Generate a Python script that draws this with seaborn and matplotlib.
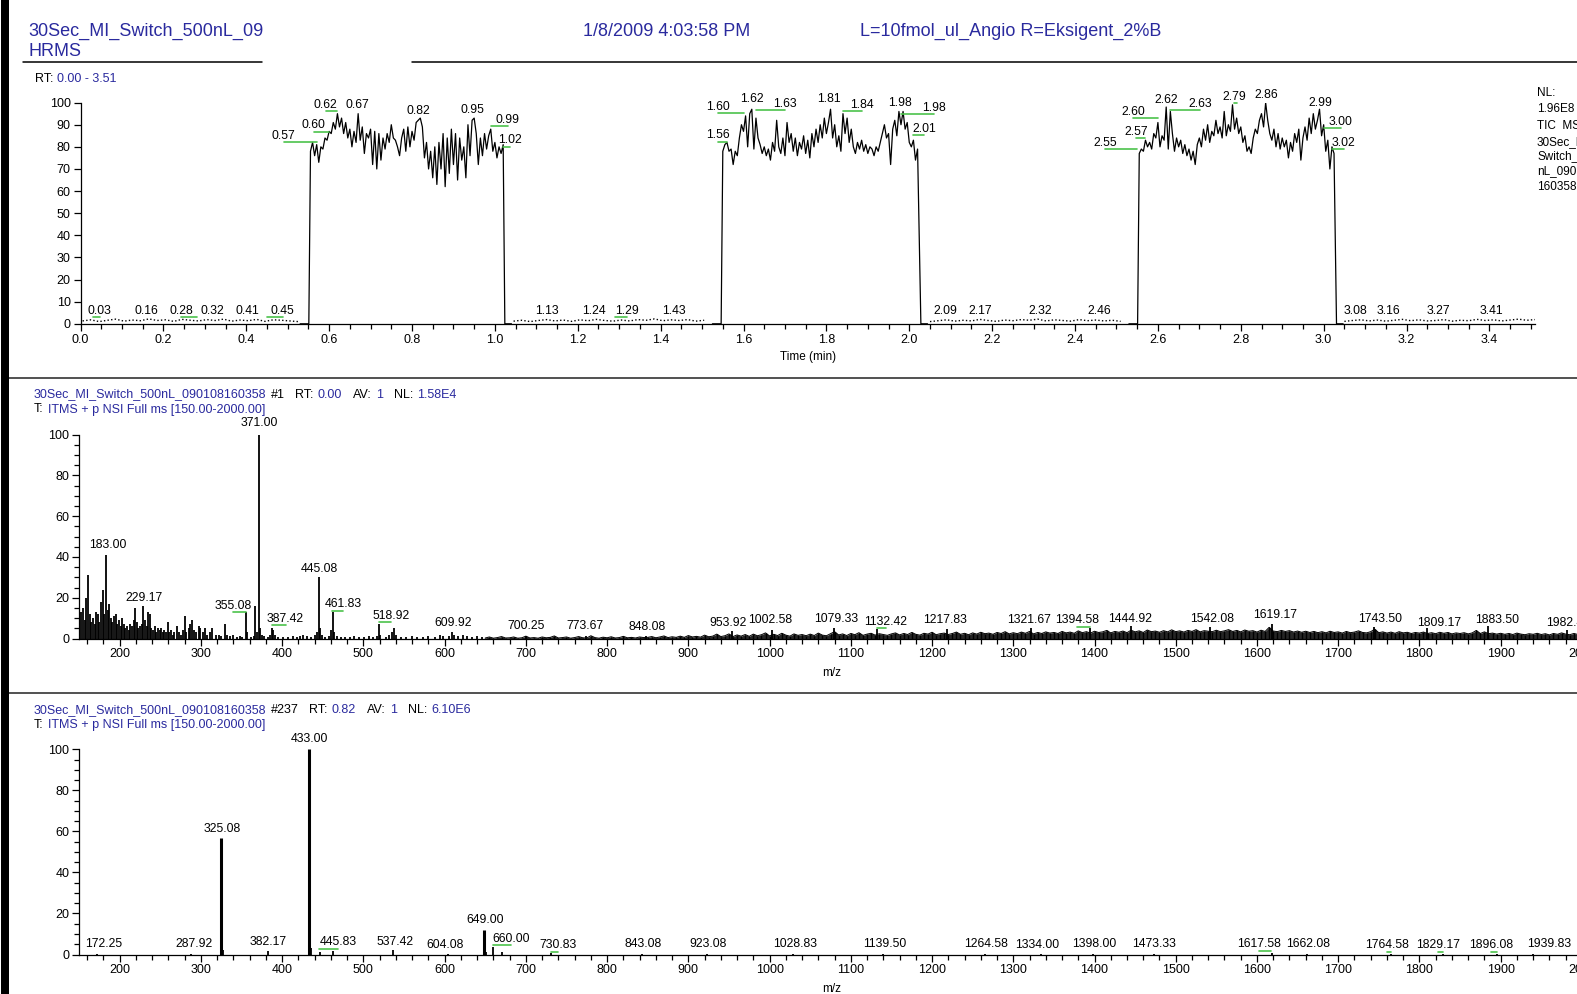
import numpy as np
import pandas as pd
import matplotlib
matplotlib.use("Agg")
import matplotlib.pyplot as plt
import seaborn as sns
from matplotlib.lines import Line2D
from matplotlib.patches import Rectangle
from matplotlib.ticker import MultipleLocator, FormatStrFormatter

# ------------------------------------------------------------------ data
# TIC chromatogram (relative abundance), plateaus sampled every 0.005 min
tic_step = 0.005
tic1_start = 0.555
tic1 = [78, 82, 76, 81, 73, 80, 79, 84, 83, 87,
        86, 91, 88, 95, 89, 93, 86, 91, 84, 88,
        80, 87, 82, 95, 83, 89, 77, 86, 84, 88,
        72, 87, 70, 86, 74, 84, 79, 86, 82, 90,
        84, 83, 80, 76, 84, 88, 78, 89, 80, 87,
        83, 91, 92, 93, 89, 75, 82, 70, 78, 66,
        80, 63, 82, 70, 86, 62, 84, 68, 88, 72,
        86, 65, 84, 74, 80, 66, 90, 76, 92, 93,
        86, 72, 84, 76, 86, 79, 85, 88, 78, 82,
        75, 80, 77, 81]
tic2_start = 1.550
tic2 = [78, 81, 82, 78, 79, 72, 78, 76, 84, 90,
        87, 94, 80, 95, 97, 79, 93, 84, 81, 77,
        80, 76, 79, 74, 82, 78, 92, 80, 77, 84,
        76, 91, 82, 86, 78, 84, 76, 82, 79, 85,
        77, 83, 75, 86, 80, 88, 82, 90, 84, 93,
        86, 91, 97, 84, 90, 80, 85, 78, 95, 86,
        93, 82, 88, 80, 77, 82, 79, 83, 78, 81,
        77, 80, 79, 76, 80, 78, 82, 86, 90, 84,
        86, 72, 88, 92, 85, 96, 90, 96, 88, 91,
        82, 80, 83, 74, 79]
tic3_start = 2.555
tic3 = [77, 79, 78, 83, 80, 82, 79, 86, 84, 91,
        80, 85, 83, 98, 79, 96, 86, 78, 84, 80,
        83, 77, 81, 76, 79, 74, 78, 72, 81, 84,
        80, 88, 83, 90, 82, 87, 85, 92, 86, 89,
        84, 96, 85, 90, 87, 99, 88, 93, 86, 89,
        82, 85, 78, 80, 77, 84, 88, 86, 92, 95,
        89, 100, 92, 86, 83, 88, 80, 86, 79, 84,
        80, 83, 75, 82, 78, 86, 82, 88, 74, 84,
        89, 83, 93, 86, 95, 88, 92, 97, 85, 90,
        78, 83, 70, 80, 77]
tic_rise = [0.551, 1.546, 2.551]
tic_fall = [1.024, 2.028, 3.031]

# low baseline between plateaus (dotted trace), every 0.02 min
base_step = 0.02
base_a_start = 0.005
base_a = [1.3, 1.8, 1.0, 1.6, 2.1, 1.2, 1.7, 1.4, 2.2, 1.5, 1.8, 1.1, 2.0, 1.6,
          1.3, 1.9, 1.5, 2.1, 1.2, 1.7, 1.4, 2.0, 1.1, 1.8, 1.6, 1.3, 1.0]
base_b_start = 1.045
base_b = [1.2, 1.6, 1.0, 1.5, 1.9, 1.3, 1.7, 1.1, 1.8, 1.4, 2.0, 1.5, 1.2, 1.7,
          1.3, 1.9, 1.6, 2.2, 1.4, 1.8, 1.5, 1.9, 1.2, 1.6]
base_c_start = 2.050
base_c = [1.0, 1.4, 1.8, 1.2, 1.6, 1.3, 2.0, 1.5, 1.1, 1.7, 1.4, 1.9, 1.6, 2.1,
          1.3, 1.8, 1.5, 1.2, 1.9, 1.4, 1.7, 1.3, 1.6, 1.1]
base_d_start = 3.050
base_d = [1.1, 1.5, 1.8, 1.3, 1.7, 1.2, 1.6, 2.0, 1.4, 1.8, 1.3, 1.5, 1.9, 1.2,
          1.6, 1.4, 2.0, 1.5, 1.8, 1.3, 1.7, 2.1, 1.6, 1.9]

# labelled retention times (text), label centre (x, y) and leader flag
top_label_rt = [0.03, 0.16, 0.28, 0.32, 0.41, 0.45, 1.13, 1.24, 1.29, 1.43,
                2.09, 2.17, 2.32, 2.46, 3.08, 3.16, 3.27, 3.41,
                0.57, 0.60, 0.62, 0.67, 0.82, 0.95, 0.99, 1.02,
                1.56, 1.60, 1.62, 1.63, 1.81, 1.84, 1.98, 1.98, 2.01,
                2.55, 2.60, 2.57, 2.62, 2.63, 2.79, 2.86, 2.99, 3.00, 3.02]
top_label_x = [0.046, 0.159, 0.243, 0.318, 0.403, 0.488, 1.126, 1.240, 1.320, 1.432,
               2.087, 2.172, 2.315, 2.458, 3.077, 3.157, 3.276, 3.404,
               0.490, 0.563, 0.592, 0.667, 0.815, 0.946, 1.031, 1.036,
               1.539, 1.539, 1.621, 1.701, 1.806, 1.886, 1.978, 2.060, 2.036,
               2.473, 2.541, 2.548, 2.621, 2.701, 2.784, 2.861, 2.992, 3.041, 3.048]
top_label_y = [5.9] * 18 + [85.0, 89.9, 99.0, 99.0, 96.3, 96.7, 92.2, 83.1,
                            85.4, 98.2, 101.8, 99.5, 101.8, 99.1, 100.0, 97.7, 88.2,
                            81.8, 95.9, 86.8, 101.4, 99.5, 102.7, 103.6, 100.0, 91.4, 81.8]
top_label_leader = [1, 0, 1, 0, 0, 1, 0, 0, 1, 0, 0, 0, 0, 0, 0, 0, 0, 0,
                    1, 1, 1, 0, 0, 0, 1, 1,
                    1, 1, 0, 1, 0, 1, 0, 1, 1,
                    1, 1, 1, 0, 1, 1, 0, 0, 1, 1]

# scan #1 spectrum: centroid sticks (m/z, relative intensity)
mid_mz = [152, 155, 157, 159, 161, 163, 165, 167, 169, 171, 173, 175, 177, 179, 181,
          183, 185, 187, 189, 191, 193, 195, 197, 199, 201, 203, 205, 207, 209, 211,
          213, 215, 217, 219, 221, 223, 225, 227, 229, 231, 233, 235, 237, 239, 241,
          243, 245, 247, 249, 251, 253, 255, 257, 259, 261, 263, 265, 267, 270, 273,
          276, 278, 280, 282, 285, 287, 289, 291, 294, 297, 299, 302, 305, 308, 311,
          314, 318, 322, 325, 329, 332, 336, 340, 344, 348, 351, 355, 357, 361, 365,
          367, 369, 371, 373, 375, 378, 382, 385, 387, 389, 391, 395, 401, 407, 413,
          418, 422, 426, 430, 436, 441, 443, 445, 447, 449, 453, 458, 460, 462, 464,
          467, 472, 477, 484, 489, 495, 501, 507, 512, 517, 519, 521, 528, 532, 535,
          538, 540, 546, 553, 560, 566, 573, 580, 588, 594, 598, 605, 609, 612, 617,
          623, 628, 634, 640, 646,
          700, 774, 848, 954, 1003, 1079, 1132, 1218, 1322, 1395, 1445, 1542, 1619,
          1744, 1809, 1884, 1982]
mid_int = [13, 15, 9, 20, 31, 12, 8, 10, 7, 13, 12, 8, 18, 24, 12,
           41, 14, 17, 10, 8, 11, 12, 7, 9, 6, 10, 7, 5, 6, 4,
           7, 6, 9, 15, 8, 5, 6, 7, 16, 9, 6, 13, 12, 5, 4,
           6, 3, 5, 4, 5, 3, 4, 3, 8, 3, 4, 2, 3, 6, 3,
           2, 4, 11, 3, 5, 7, 9, 4, 3, 6, 5, 3, 5, 2, 3,
           5, 2, 2, 1.5, 7, 2, 1.5, 2, 1, 1.5, 1, 13, 3, 1, 1.5,
           16, 3, 100, 5, 2, 1.5, 1, 2, 5, 4, 2, 1, 1, 1, 1.5,
           1, 1.5, 2, 1.5, 1, 2, 3, 30, 5, 2, 1, 1.5, 4, 13, 3,
           1.5, 1, 1, 1, 1.5, 1, 1, 1.5, 1, 1.5, 7, 2, 1, 2, 3,
           5, 2, 1, 1, 1.5, 1, 1, 1.5, 1, 2, 1.5, 1.5, 3, 2, 1.5,
           2, 1.5, 1, 1.5, 1,
           1.5, 1.5, 1.5, 3.5, 4, 5, 4.5, 4.5, 5, 5, 6, 5.5, 7,
           5.5, 5, 6, 4]
# scan #1 profile noise above m/z 650, every 5 m/z
mid_noise_start = 650
mid_noise_step = 5
mid_noise = [0.3, 0.8, 0.2, 0.5, 1, 0.3, 0.4, 0.8, 0.2, 0.4, 1.2, 0.3, 0.5, 0.2, 0.8, 0.4, 0.6, 1.3, 0.3, 0.5,
             0.8, 0.2, 0.5, 1, 0.4, 0.3, 1.4, 0.5, 0.2, 0.7, 0.4, 0.9, 0.3, 0.5, 1.1, 0.4, 0.6, 0.3, 0.8, 0.5,
             0.6, 1, 0.4, 0.8, 1.3, 0.5, 0.9, 0.6, 1.2, 0.6, 1.5, 0.8, 1.1, 0.7, 1.7, 0.9, 1.2, 2.2, 1, 1.4,
             2.3, 1, 1.8, 1.2, 2, 1.1, 2.2, 1.4, 1.9, 2.8, 1.3, 2.1, 1.5, 2.6, 1.7, 1.2, 2.3, 1.6, 2, 1.4,
             2.2, 1.5, 2.7, 1.7, 1.4, 2.4, 3.4, 1.8, 2.3, 1.5, 2.5, 1.9, 2.9, 1.6, 2.2, 2.6, 1.7, 2.4, 2, 1.6,
             2.3, 2.8, 1.8, 2.5, 2, 3, 2.1, 1.7, 2.6, 2.2, 3.1, 1.9, 2.4, 2.7, 2, 2.5, 3.2, 2.1, 2.6, 1.9,
             2.8, 2.2, 3.1, 2.4, 2.7, 2.1, 3, 2.5, 3.4, 2.3, 2.9, 2.4, 3.2, 2.6, 3.5, 2.3, 3, 2.5, 3.3, 2.7,
             3, 2.5, 3.5, 2.8, 3.2, 2.6, 3.8, 2.9, 3.4, 2.7, 3.6, 3, 3.3, 4, 2.8, 3.5, 3.1, 3.7, 2.9, 4.1,
             3.3, 3.8, 3, 4.2, 3.4, 3.7, 3.1, 3.9, 3.3, 4.3, 3.4, 3.8, 3.2, 4, 3.5, 4.4, 3.3, 3.9, 3.6, 3.4,
             4.1, 3.4, 3.8, 4.4, 3.5, 4, 3.3, 4.2, 3.6, 3.9, 3.2, 4.1, 3.5, 5.5, 3.7, 3.4, 4, 3.5, 3.9, 3.2,
             3.7, 3.1, 3.6, 3, 3.5, 2.9, 3.4, 2.8, 3.6, 3, 3.3, 2.7, 3.5, 2.9, 3.2, 3.8, 3, 2.8, 3.4, 4.6,
             2.9, 3.3, 2.7, 3.2, 2.6, 3.4, 2.8, 3.1, 2.5, 3, 2.7, 3.2, 2.5, 2.9, 2.4, 3.1, 2.6, 3, 2.3, 2.8,
             2.5, 2.9, 2.3, 2.8, 4, 2.5, 3.3, 2.4, 2.7, 2.2, 2.6, 2.1, 2.5, 2, 2.7, 2.2, 1.9, 2.4, 2.1, 2.6,
             2, 2.4, 1.8, 2.5, 2.1, 2.8, 2.2, 1.9, 2.5, 2, 2.3]
mid_label_text = ["371.00", "183.00", "229.17", "355.08", "387.42", "445.08", "461.83",
                  "518.92", "609.92", "700.25", "773.67", "848.08", "953.92", "1002.58",
                  "1079.33", "1132.42", "1217.83", "1321.67", "1394.58", "1444.92",
                  "1542.08", "1619.17", "1743.50", "1809.17", "1883.50", "1982.42"]
mid_label_x = [372.1, 185.1, 229.7, 339.9, 404.2, 446.3, 474.9, 534.3, 611.0, 700.2,
               773.2, 848.8, 949.1, 1001.1, 1081.6, 1143.0, 1216.5, 1319.3, 1378.6,
               1444.4, 1544.5, 1622.6, 1751.3, 1824.2, 1895.2, 1983.0]
mid_label_y = [105.4, 45.8, 19.7, 16.2, 9.8, 34.0, 16.8, 11.3, 7.4, 6.4, 6.4, 5.9, 7.4,
               8.9, 9.4, 8.3, 8.9, 8.9, 8.9, 9.8, 9.4, 11.8, 9.4, 7.8, 8.9, 7.4]
mid_label_leader = [0, 0, 0, 1, 1, 0, 1, 1, 0, 0, 0, 0, 0, 0, 0, 1, 0, 0, 1, 0, 0, 0, 0, 0, 0, 0]

# scan #237 spectrum
bot_mz = [172, 288, 325, 327, 382, 433, 435, 446, 463, 537, 604, 649, 651, 660, 670,
          731, 843, 923, 1029, 1140, 1265, 1334, 1398, 1473, 1618, 1662, 1765, 1829,
          1896, 1940]
bot_int = [0.4, 0.4, 57, 2, 1.5, 100, 3, 1, 1.5, 2, 0.4, 12, 1, 3.5, 1.2,
           0.6, 0.3, 0.3, 0.3, 0.3, 0.3, 0.3, 0.3, 0.3, 0.5, 0.3, 0.4, 0.4, 0.4, 0.3]
bot_label_text = ["433.00", "325.08", "649.00", "660.00", "172.25", "287.92", "382.17",
                  "445.83", "537.42", "604.08", "730.83", "843.08", "923.08", "1028.83",
                  "1139.50", "1264.58", "1334.00", "1398.00", "1473.33", "1617.58",
                  "1662.08", "1764.58", "1829.17", "1896.08", "1939.83"]
bot_label_x = [434.0, 326.3, 649.5, 681.6, 180.2, 291.6, 383.2, 468.6, 539.3, 599.9,
               739.8, 843.9, 924.2, 1032.0, 1142.3, 1266.0, 1329.2, 1399.8, 1472.8,
               1602.8, 1663.5, 1760.3, 1822.6, 1887.8, 1959.3]
bot_label_y = [104.9, 61.3, 16.7, 7.4, 4.9, 4.9, 5.9, 5.9, 5.9, 4.4, 4.4, 4.9, 4.9, 4.9,
               4.9, 4.9, 4.4, 4.9, 4.9, 4.9, 4.9, 4.4, 4.4, 4.4, 4.9]
bot_label_leader = [0, 0, 0, 1, 0, 0, 0, 1, 0, 0, 1, 0, 0, 0, 0, 0, 0, 0, 0, 1, 0, 1, 1, 1, 0]

# ------------------------------------------------------------------ style
sns.set_theme(style="white")
plt.rcParams["font.family"] = ["Liberation Sans", "DejaVu Sans"]
plt.rcParams["axes.edgecolor"] = "black"
plt.rcParams["axes.linewidth"] = 0.9
plt.rcParams["xtick.color"] = "black"
plt.rcParams["ytick.color"] = "black"
plt.rcParams["text.color"] = "black"

BLUE = "#2a2a9e"
GREEN = "#4cc24c"
W, H = 1577, 994
fig = plt.figure(figsize=(W / 100, H / 100), dpi=100, facecolor="white")


def fx(px):
    return px / W


def fy(py):
    return 1 - py / H


def ftext(x, y, s, color="black", size=9, **kw):
    return fig.text(fx(x), fy(y), s, color=color, fontsize=size, va="center", **kw)


renderer = fig.canvas.get_renderer()


def pieces(x, y, items, size=9):
    for s, c, gap in items:
        t = ftext(x, y, s, color=c, size=size)
        x += t.get_window_extent(renderer).width + gap


def style_axes(ax, xmaj, xmin, ymaj, ymin, xfmt):
    for s in ["top", "right"]:
        ax.spines[s].set_visible(False)
    ax.set_facecolor("none")
    ax.xaxis.set_major_locator(MultipleLocator(xmaj))
    ax.xaxis.set_minor_locator(MultipleLocator(xmin))
    ax.yaxis.set_major_locator(MultipleLocator(ymaj))
    if ymin:
        ax.yaxis.set_minor_locator(MultipleLocator(ymin))
    ax.xaxis.set_major_formatter(FormatStrFormatter(xfmt))
    ax.yaxis.set_major_formatter(FormatStrFormatter("%d"))
    ax.tick_params(which="major", direction="out", length=5, width=0.9, labelsize=9, pad=2,
                   bottom=True, left=True)
    ax.tick_params(which="minor", direction="out", length=3.5, width=0.9, bottom=True, left=True)
    ax.set_xlabel("")
    ax.set_ylabel("")
    ax.grid(False)


# ------------------------------------------------------------------ axes
ax1 = fig.add_axes([fx(80.5), fy(323.8), (1535.0 - 80.5) / W, (323.8 - 102.6) / H])
ax2 = fig.add_axes([fx(79.1), fy(638.6), 1502.8 / W, (638.6 - 434.5) / H])
ax3 = fig.add_axes([fx(79.1), fy(954.5), 1502.8 / W, (954.5 - 749.3) / H])

# --- TIC
for start, vals, rise, fall in zip([tic1_start, tic2_start, tic3_start], [tic1, tic2, tic3],
                                   tic_rise, tic_fall):
    t = np.concatenate([[rise - 0.021, rise], start + tic_step * np.arange(len(vals)),
                        [fall, fall + 0.016]])
    v = np.concatenate([[0, 0], vals, [0, 0]])
    sns.lineplot(x=t, y=v, ax=ax1, color="black", linewidth=0.9, estimator=None, sort=False)
for start, vals in zip([base_a_start, base_b_start, base_c_start, base_d_start],
                       [base_a, base_b, base_c, base_d]):
    t = start + base_step * np.arange(len(vals))
    sns.lineplot(x=t, y=vals, ax=ax1, color="black", linewidth=1.0, estimator=None, sort=False,
                 linestyle=(0, (1.0, 1.6)))
ax1.set_xlim(0, 3.51)
ax1.set_ylim(0, 100)
style_axes(ax1, 0.2, 0.05, 10, None, "%.1f")
for rt, x, y, ld in zip(top_label_rt, top_label_x, top_label_y, top_label_leader):
    ax1.text(x, y, f"{rt:.2f}", ha="center", va="center", fontsize=8.8, color="black")
    if ld:
        ax1.plot([rt, x], [y - 3.0, y - 3.0], color=GREEN, lw=1.2, clip_on=False)

# --- scan 1
noise_mz = mid_noise_start + mid_noise_step * np.arange(len(mid_noise))
ax2.fill_between(noise_mz, mid_noise, 0, color="black", lw=0, alpha=0.85)
sns.lineplot(x=noise_mz, y=mid_noise, ax=ax2, color="black", linewidth=0.7, estimator=None, sort=False)
ax2.vlines(noise_mz, 0, mid_noise, color="black", lw=1.0)
ax2.vlines(mid_mz, 0, mid_int, color="black", lw=1.3)
ax2.set_xlim(150, 2000)
ax2.set_ylim(0, 100)
style_axes(ax2, 100, 20, 20, 5, "%d")
for s, x, y, ld in zip(mid_label_text, mid_label_x, mid_label_y, mid_label_leader):
    ax2.text(x, y, s, ha="center", va="center", fontsize=8.8, color="black")
    if ld:
        ax2.plot([float(s), x], [y - 3.2, y - 3.2], color=GREEN, lw=1.2, clip_on=False)

# --- scan 237
bot_w = [2.2 if v > 10 else 1.3 for v in bot_int]
ax3.vlines(bot_mz, 0, bot_int, color="black", lw=bot_w)
ax3.set_xlim(150, 2000)
ax3.set_ylim(0, 100)
style_axes(ax3, 100, 20, 20, 5, "%d")
for s, x, y, ld in zip(bot_label_text, bot_label_x, bot_label_y, bot_label_leader):
    ax3.text(x, y, s, ha="center", va="center", fontsize=8.8, color="black")
    if ld:
        ax3.plot([float(s), x], [y - 3.0, y - 3.0], color=GREEN, lw=1.2, clip_on=False)

# ------------------------------------------------------------------ page texts
ftext(28, 31.2, "30Sec_MI_Switch_500nL_090108160358", color=BLUE, size=13)
fig.add_artist(Rectangle((fx(262.5), fy(46)), fx(140), 30 / H, transform=fig.transFigure,
                         facecolor="white", edgecolor="none", zorder=5))
ftext(28, 51.3, "HRMS", color=BLUE, size=13)
ftext(583, 31.2, "1/8/2009 4:03:58 PM", color=BLUE, size=13)
ftext(860, 31.2, "L=10fmol_ul_Angio R=Eksigent_2%B", color=BLUE, size=13)
fig.add_artist(Line2D([fx(23), fx(262)], [fy(62.4)] * 2, color="black", lw=1.1))
fig.add_artist(Line2D([fx(412), 1], [fy(62.4)] * 2, color="black", lw=1.1))
fig.add_artist(Rectangle((fx(1), 0), fx(7.5), 1, transform=fig.transFigure,
                         facecolor="black", edgecolor="none", zorder=6))
fig.add_artist(Line2D([fx(9), 1], [fy(378.2)] * 2, color="#222222", lw=1.1))
fig.add_artist(Line2D([fx(9), 1], [fy(693.0)] * 2, color="#222222", lw=1.1))

pieces(35, 79.5, [("RT:", "black", 4), ("0.00 - 3.51", BLUE, 0)], size=9)
for s, y in [("NL:", 93.5), ("1.96E8", 108.6), ("TIC  MS", 125.7), ("30Sec_MI", 141.8),
             ("Switch_500", 155.9), ("nL_0901", 171.0), ("160358", 187.1)]:
    ftext(1537, y, s, size=8.5)
ftext(807.6, 357, "Time (min)", size=8.5, ha="center")
ftext(831.7, 672.8, "m/z", size=8.5, ha="center")
ftext(831.7, 988.6, "m/z", size=8.5, ha="center")

pieces(34, 394.5, [("30Sec_MI_Switch_500nL_090108160358", BLUE, 4), ("#1", "black", 11),
                   ("RT:", "black", 4), ("0.00", BLUE, 11), ("AV:", "black", 4), ("1", BLUE, 11),
                   ("NL:", "black", 4), ("1.58E4", BLUE, 0)])
pieces(34, 409.5, [("T:", "black", 4), ("ITMS + p NSI Full ms [150.00-2000.00]", BLUE, 0)])
pieces(34, 710.0, [("30Sec_MI_Switch_500nL_090108160358", BLUE, 4), ("#237", "black", 11),
                   ("RT:", "black", 4), ("0.82", BLUE, 11), ("AV:", "black", 4), ("1", BLUE, 11),
                   ("NL:", "black", 4), ("6.10E6", BLUE, 0)])
pieces(34, 725.0, [("T:", "black", 4), ("ITMS + p NSI Full ms [150.00-2000.00]", BLUE, 0)])

fig.savefig("out.png", dpi=100, facecolor="white")
